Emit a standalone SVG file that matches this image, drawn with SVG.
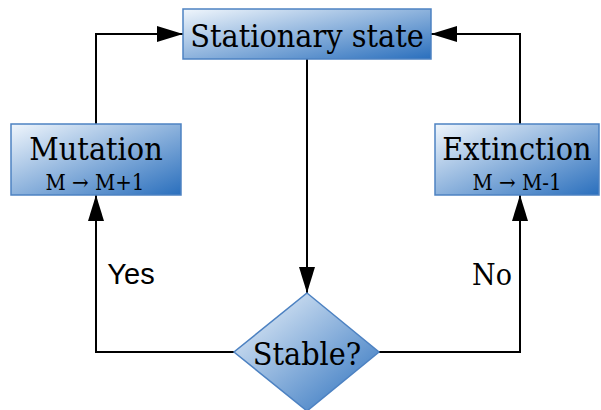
<svg xmlns="http://www.w3.org/2000/svg" width="601" height="410" viewBox="0 0 601 410">
<defs>
<linearGradient id="g" x1="0" y1="0" x2="1" y2="1">
<stop offset="0" stop-color="#f0f6fc"/>
<stop offset="1" stop-color="#2a6fbd"/>
</linearGradient>
<marker id="a" markerWidth="26" markerHeight="16" refX="26" refY="8" orient="auto" markerUnits="userSpaceOnUse">
<path d="M0,0 L26,8 L0,16 z" fill="#000"/>
</marker>
</defs>
<style>
.n{fill:url(#g);stroke:#4d82c2;stroke-width:1.5}
.t{font-family:"DejaVu Serif",serif;font-stretch:condensed;fill:#000;text-anchor:middle}
.l{font-family:"Liberation Sans",Arial,sans-serif;font-size:29px;fill:#000;text-anchor:middle}
.c{fill:none;stroke:#000;stroke-width:2}
</style>
<g id="connectors">
<path class="c" d="M307,59 V293" marker-end="url(#a)"/>
<path class="c" d="M234,352 H96 V195" marker-end="url(#a)"/>
<path class="c" d="M96,124 V34 H183" marker-end="url(#a)"/>
<path class="c" d="M379,352 H520 V195" marker-end="url(#a)"/>
<path class="c" d="M520,124 V34 H431" marker-end="url(#a)"/>
</g>
<g id="stationary">
<rect class="n" x="183" y="9" width="248" height="50"/>
<text class="t" x="307" y="47" font-size="32">Stationary state</text>
</g>
<g id="mutation">
<rect class="n" x="11" y="124" width="170" height="71"/>
<text class="t" x="96" y="160" font-size="32">Mutation</text>
<text class="t" x="95" y="190" font-size="22">M → M+1</text>
</g>
<g id="extinction">
<rect class="n" x="435" y="124" width="164" height="71"/>
<text class="t" x="517" y="160" font-size="32">Extinction</text>
<text class="t" x="517" y="190" font-size="22">M → M-1</text>
</g>
<g id="stable">
<path class="n" d="M307,293 L379,352 L307,411 L234,352 z"/>
<text class="t" x="307" y="365" font-size="32">Stable?</text>
</g>
<g id="labels">
<text class="l" x="131" y="284">Yes</text>
<text class="t" x="492" y="285" font-size="30">No</text>
</g>
</svg>
